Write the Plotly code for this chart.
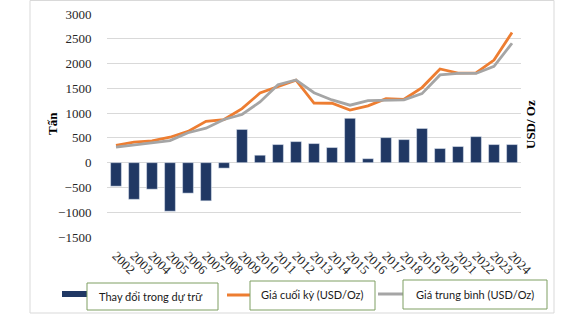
import plotly.graph_objects as go

years = [str(y) for y in range(2002, 2025)]
reserve_change = [-475, -740, -535, -980, -615, -770, -110, 670, 150, 365, 425, 385, 305, 895, 80,
                  505, 465, 690, 285, 325, 525, 365, 365]
price_end = [347, 416, 438, 513, 632, 834, 870, 1090, 1405, 1530, 1664, 1204, 1199, 1060, 1146,
             1291, 1279, 1515, 1890, 1806, 1812, 2070, 2625]
price_avg = [315, 363, 409, 445, 604, 695, 872, 972, 1225, 1572, 1669, 1411, 1266, 1160, 1251,
             1257, 1268, 1393, 1770, 1800, 1800, 1945, 2410]
y_ticks = [-1500, -1000, -500, 0, 500, 1000, 1500, 2000, 2500, 3000]

W, H = 578, 322
L, R, T, B = 107, 521, 14, 237

def xp(px):
    return (px - L) / (R - L)

def yp(py):
    return (B - py) / (B - T)

NAVY = "#203864"
ORANGE = "#ED7D31"
GRAY = "#A5A5A5"
GREEN = "#7F9F62"

fig = go.Figure()
fig.add_trace(go.Bar(x=years, y=reserve_change, marker_color=NAVY, name="Thay đổi trong dự trữ"))
fig.add_trace(go.Scatter(x=years, y=price_end, mode="lines", line=dict(color=ORANGE, width=2.8),
                         name="Giá cuối kỳ (USD/Oz)"))
fig.add_trace(go.Scatter(x=years, y=price_avg, mode="lines", line=dict(color=GRAY, width=2.8),
                         name="Giá trung bình (USD/Oz)"))

serif = "Liberation Serif"
sans = "Lato"
LEG_SIZE = 11

shapes = []
annotations = []

# outer frame
shapes.append(dict(type="rect", xref="paper", yref="paper", x0=xp(30), x1=xp(554), y0=yp(313), y1=yp(0.5),
                   line=dict(color="#D9D9D9", width=1), layer="below"))

# legend item 1
shapes.append(dict(type="rect", xref="paper", yref="paper", x0=xp(62), x1=xp(87), y0=yp(297), y1=yp(291),
                   fillcolor=NAVY, line=dict(width=0)))
shapes.append(dict(type="rect", xref="paper", yref="paper", x0=xp(87), x1=xp(218), y0=yp(310), y1=yp(283),
                   line=dict(color=GREEN, width=1)))
annotations.append(dict(x=xp(97), y=yp(296.5), xref="paper", yref="paper", text="Thay đổi trong dự trữ",
                        showarrow=False, xanchor="left", yanchor="middle",
                        font=dict(family=sans, size=LEG_SIZE, color="#1a1a1a")))
# legend item 2
shapes.append(dict(type="line", xref="paper", yref="paper", x0=xp(227), x1=xp(250), y0=yp(295), y1=yp(295),
                   line=dict(color=ORANGE, width=3)))
shapes.append(dict(type="rect", xref="paper", yref="paper", x0=xp(250), x1=xp(375), y0=yp(310), y1=yp(281),
                   line=dict(color=GREEN, width=1)))
annotations.append(dict(x=xp(259), y=yp(295), xref="paper", yref="paper", text="Giá cuối kỳ (USD/Oz)",
                        showarrow=False, xanchor="left", yanchor="middle",
                        font=dict(family=sans, size=LEG_SIZE, color="#1a1a1a")))
# legend item 3
shapes.append(dict(type="line", xref="paper", yref="paper", x0=xp(378), x1=xp(403), y0=yp(294), y1=yp(294),
                   line=dict(color=GRAY, width=3)))
shapes.append(dict(type="rect", xref="paper", yref="paper", x0=xp(403), x1=xp(547), y0=yp(309), y1=yp(280),
                   line=dict(color=GREEN, width=1)))
annotations.append(dict(x=xp(414), y=yp(294), xref="paper", yref="paper", text="Giá trung bình (USD/Oz)",
                        showarrow=False, xanchor="left", yanchor="middle",
                        font=dict(family=sans, size=LEG_SIZE, color="#1a1a1a")))

# axis titles
annotations.append(dict(x=xp(52), y=yp(124), xref="paper", yref="paper", text="<b>Tấn</b>", textangle=-90,
                        showarrow=False, xanchor="center", yanchor="middle",
                        font=dict(family=serif, size=13, color="#000000")))
annotations.append(dict(x=xp(530), y=yp(125), xref="paper", yref="paper", text="<b>USD/ Oz</b>", textangle=-90,
                        showarrow=False, xanchor="center", yanchor="middle",
                        font=dict(family=serif, size=13, color="#000000")))

fig.update_layout(
    width=W, height=H,
    margin=dict(l=L, r=W - R, t=T, b=H - B, autoexpand=False),
    paper_bgcolor="white", plot_bgcolor="white",
    showlegend=False,
    bargap=0.4,
    shapes=shapes,
    annotations=annotations,
    xaxis=dict(type="category", tickangle=45, showgrid=False, showline=False, zeroline=False,
               ticks="outside", ticklen=5, tickcolor="rgba(0,0,0,0)",
               tickfont=dict(family=serif, size=13, color="#262626")),
    yaxis=dict(range=[-1500, 3000], tickvals=y_ticks, showgrid=True, gridcolor="#D9D9D9", gridwidth=1,
               zeroline=False, showline=False, ticks="outside", ticklen=12, tickcolor="rgba(0,0,0,0)",
               tickfont=dict(family=serif, size=13, color="#262626")),
)

fig.write_html("out.html")
